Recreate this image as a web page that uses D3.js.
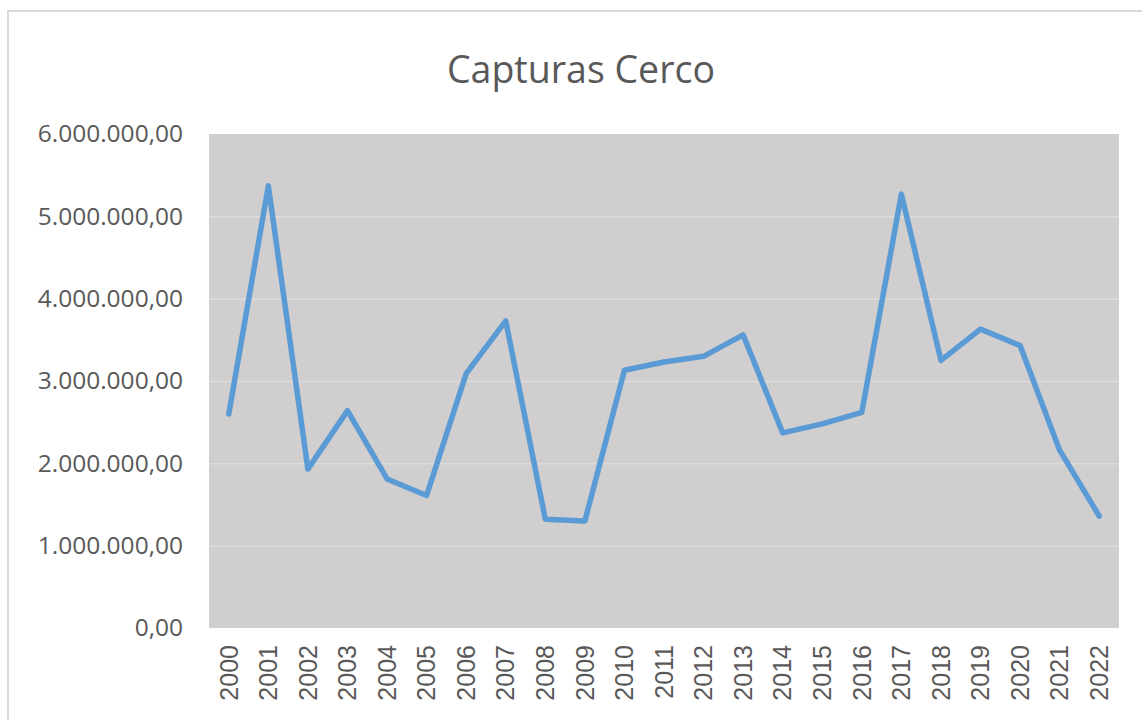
<!DOCTYPE html>
<html>
<head>
<meta charset="utf-8">
<script src="https://cdn.jsdelivr.net/npm/d3@7"></script>
<style>
  body { margin: 0; background: #fff; }
</style>
</head>
<body>
<div id="chart"></div>
<script>
const years = ["2000", "2001", "2002", "2003", "2004", "2005", "2006", "2007", "2008", "2009", "2010", "2011", "2012", "2013", "2014", "2015", "2016", "2017", "2018", "2019", "2020", "2021", "2022"];
const capturas = [2600000, 5370000, 1930000, 2640000, 1810000, 1610000, 3090000, 3730000, 1320000, 1300000, 3130000, 3230000, 3300000, 3560000, 2370000, 2480000, 2620000, 5270000, 3250000, 3630000, 3430000, 2160000, 1360000];
const yTicks = [0, 1000000, 2000000, 3000000, 4000000, 5000000, 6000000];

const width = 1142;
const height = 720;
const marginLeft = 209;
const marginRight = 23;
const marginTop = 134;
const marginBottom = 92;

const x = d3
  .scaleBand()
  .domain(years)
  .range([marginLeft, width - marginRight]);

const y = d3
  .scaleLinear()
  .domain([0, 6000000])
  .range([height - marginBottom, marginTop]);

const fmt = (v) =>
  d3.format(",.2f")(v).replace(/,/g, "#").replace(/\./g, ",").replace(/#/g, ".");

const svg = d3
  .create("svg")
  .attr("width", width)
  .attr("height", height)
  .attr("viewBox", [0, 0, width, height]);

// chart frame
svg
  .append("rect")
  .attr("x", 8)
  .attr("y", 11)
  .attr("width", width + 20)
  .attr("height", height + 20)
  .attr("fill", "#fff")
  .attr("stroke", "#d9d9d9")
  .attr("stroke-width", 2);

// plot background
svg
  .append("rect")
  .attr("x", marginLeft)
  .attr("y", marginTop)
  .attr("width", width - marginLeft - marginRight)
  .attr("height", height - marginTop - marginBottom)
  .attr("fill", "#d0cece");

// grid lines
svg
  .append("g")
  .attr("class", "grid")
  .attr("transform", `translate(${marginLeft},0)`)
  .call(
    d3
      .axisLeft(y)
      .tickValues(yTicks.slice(1, -1))
      .tickSize(-(width - marginLeft - marginRight))
      .tickFormat("")
  )
  .call((g) => g.select(".domain").remove())
  .call((g) => g.selectAll("line").attr("stroke", "#dcdcdc").attr("stroke-width", 1.5));

// y axis labels
svg
  .append("g")
  .attr("transform", `translate(${marginLeft},0)`)
  .call(d3.axisLeft(y).tickValues(yTicks).tickSize(0).tickPadding(26).tickFormat(fmt))
  .call((g) => g.select(".domain").remove())
  .call((g) =>
    g
      .selectAll("text")
      .attr("fill", "#595959")
      .attr("font-family", "'Open Sans', sans-serif")
      .attr("font-size", 24.5)
  );

// x axis labels
svg
  .append("g")
  .attr("transform", `translate(0,${height - marginBottom})`)
  .call(d3.axisBottom(x).tickSize(0).tickPadding(0))
  .call((g) => g.select(".domain").remove())
  .call((g) =>
    g
      .selectAll("text")
      .attr("fill", "#595959")
      .attr("font-family", "'Liberation Sans', Arial, sans-serif")
      .attr("font-size", 25)
      .attr("text-anchor", "end")
      .attr("dy", "0.35em")
      .attr("transform", "translate(0,17) rotate(-90)")
      .attr("x", 0)
      .attr("y", 0)
  );

// line
const line = d3
  .line()
  .x((d, i) => x(years[i]) + x.bandwidth() / 2)
  .y((d) => y(d));

svg
  .append("path")
  .datum(capturas)
  .attr("fill", "none")
  .attr("stroke", "#5b9bd5")
  .attr("stroke-width", 5.5)
  .attr("stroke-linejoin", "round")
  .attr("stroke-linecap", "round")
  .attr("d", line);

// title
svg
  .append("text")
  .attr("x", 581)
  .attr("y", 83)
  .attr("text-anchor", "middle")
  .attr("fill", "#595959")
  .attr("font-family", "'Open Sans', sans-serif")
  .attr("font-size", 37.5)
  .text("Capturas Cerco");

document.getElementById("chart").append(svg.node());
</script>
</body>
</html>
